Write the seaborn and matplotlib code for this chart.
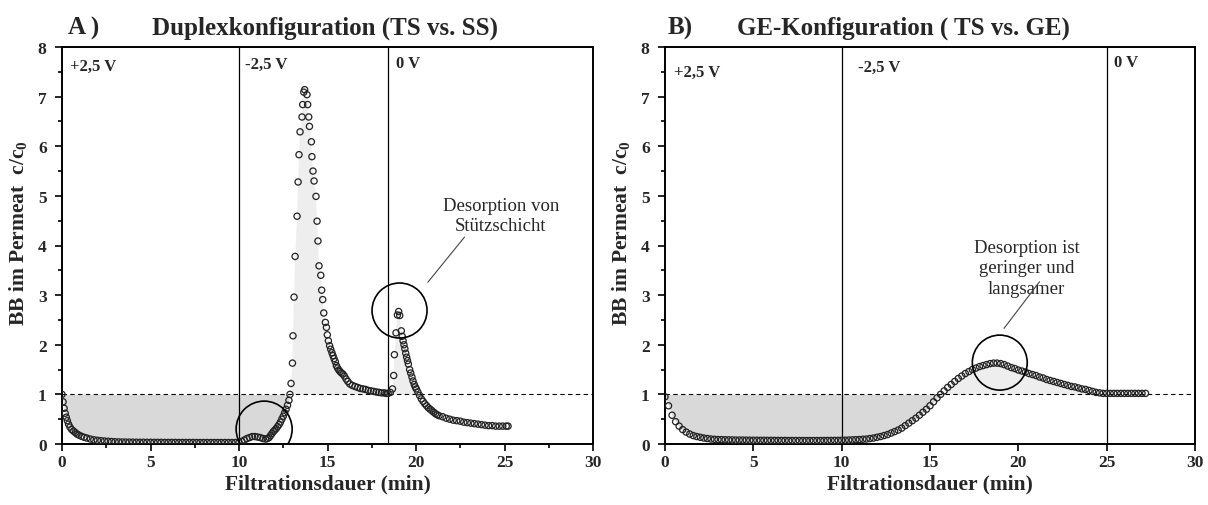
import matplotlib
matplotlib.use("Agg")
import numpy as np
import matplotlib.pyplot as plt
from matplotlib.patches import Ellipse
from matplotlib.ticker import MultipleLocator
import seaborn as sns

# ---------------- Panel A: Duplex configuration (TS vs. SS) ----------------
a_time = [
    0.0, 0.06, 0.12, 0.18, 0.24, 0.30, 0.37, 0.45, 0.55, 0.65, 0.75, 0.85, 0.95,
    1.10, 1.25, 1.40, 1.60, 1.80, 2.00, 2.20, 2.40, 2.60, 2.80, 3.00,
    3.2, 3.4, 3.6, 3.8, 4.0, 4.2, 4.4, 4.6, 4.8, 5.0, 5.2, 5.4, 5.6, 5.8,
    6.0, 6.2, 6.4, 6.6, 6.8, 7.0, 7.2, 7.4, 7.6, 7.8, 8.0, 8.2, 8.4, 8.6,
    8.8, 9.0, 9.2, 9.4, 9.6, 9.8, 10.0,
    10.15, 10.3, 10.45, 10.6, 10.75, 10.9, 11.05, 11.2, 11.35, 11.5, 11.6,
    11.7, 11.78, 11.86, 11.94, 12.02, 12.1, 12.18, 12.26, 12.34, 12.42, 12.5,
    12.58, 12.66, 12.74, 12.82, 12.88, 12.94,
    13.02, 13.05, 13.11, 13.17, 13.28, 13.34, 13.39, 13.45, 13.56, 13.60,
    13.66, 13.71, 13.84, 13.88, 13.94, 13.98, 14.09, 14.12, 14.18, 14.24,
    14.35, 14.41, 14.46, 14.52, 14.62, 14.67, 14.73, 14.79, 14.88, 14.94,
    14.99, 15.05, 15.12, 15.18, 15.25, 15.31, 15.37, 15.44, 15.50, 15.57,
    15.64, 15.71, 15.79, 15.87, 15.95,
    16.05, 16.15, 16.26, 16.4, 16.55, 16.7, 16.85, 17.0, 17.15, 17.3, 17.45,
    17.6, 17.75, 17.9, 18.05, 18.2, 18.32, 18.42,
    18.55, 18.67, 18.74, 18.78, 18.87, 18.95, 19.02, 19.08, 19.17, 19.22,
    19.27, 19.32, 19.37, 19.42, 19.47, 19.52, 19.57, 19.64, 19.7, 19.77,
    19.83, 19.9, 19.96, 20.02, 20.1, 20.2, 20.3, 20.4, 20.5, 20.6, 20.7,
    20.8, 20.9, 21.0, 21.1, 21.2, 21.3,
    21.5, 21.7, 21.9, 22.1, 22.3, 22.5, 22.7, 22.9, 23.1, 23.3, 23.5, 23.7,
    23.9, 24.1, 24.3, 24.5, 24.7, 24.9, 25.1, 25.2,
]
a_conc = [
    1.00, 0.85, 0.72, 0.62, 0.54, 0.47, 0.40, 0.34, 0.29, 0.26, 0.23, 0.20, 0.18,
    0.155, 0.135, 0.12, 0.10, 0.085, 0.075, 0.067, 0.06, 0.055, 0.05, 0.045,
    0.042, 0.040, 0.039, 0.038, 0.037, 0.036, 0.035, 0.035, 0.034, 0.034, 0.033,
    0.033, 0.033, 0.032, 0.032, 0.032, 0.032, 0.031, 0.031, 0.031, 0.031, 0.031,
    0.030, 0.030, 0.030, 0.030, 0.030, 0.030, 0.030, 0.030, 0.030, 0.030, 0.030,
    0.031, 0.033,
    0.05, 0.08, 0.11, 0.13, 0.15, 0.15, 0.14, 0.13, 0.11, 0.10, 0.11,
    0.13, 0.17, 0.21, 0.25, 0.28, 0.31, 0.35, 0.39, 0.44, 0.50, 0.56,
    0.63, 0.70, 0.78, 0.88, 1.00, 1.22,
    1.63, 2.18, 2.96, 3.78, 4.59, 5.28, 5.83, 6.29, 6.59, 6.84,
    7.09, 7.14, 7.04, 6.84, 6.59, 6.40, 6.09, 5.79, 5.50, 5.30,
    4.99, 4.49, 4.09, 3.59, 3.40, 3.10, 2.91, 2.64, 2.45, 2.35,
    2.20, 2.08, 1.98, 1.91, 1.84, 1.78, 1.72, 1.66, 1.58, 1.53,
    1.49, 1.46, 1.43, 1.41, 1.37,
    1.31, 1.26, 1.21, 1.18, 1.16, 1.14, 1.12, 1.11, 1.10, 1.08, 1.07,
    1.06, 1.05, 1.04, 1.03, 1.03, 1.02, 1.02,
    1.04, 1.11, 1.38, 1.80, 2.24, 2.60, 2.67, 2.59, 2.28, 2.17,
    2.08, 2.00, 1.92, 1.83, 1.75, 1.68, 1.61, 1.50, 1.43, 1.35,
    1.27, 1.20, 1.15, 1.11, 1.05, 0.98, 0.91, 0.86, 0.81, 0.77, 0.73,
    0.70, 0.67, 0.64, 0.61, 0.59, 0.57,
    0.55, 0.52, 0.50, 0.48, 0.47, 0.46, 0.44, 0.43, 0.42, 0.41, 0.40, 0.39,
    0.38, 0.37, 0.37, 0.36, 0.36, 0.36, 0.36, 0.36,
]

# ---------------- Panel B: GE configuration (TS vs. GE) ----------------
b_time = [
    0.0, 0.2, 0.4, 0.6, 0.8, 1.0, 1.2, 1.4, 1.6, 1.8,
    2.0, 2.2, 2.4, 2.6, 2.8, 3.0, 3.2, 3.4, 3.6, 3.8,
    4.0, 4.2, 4.4, 4.6, 4.8, 5.0, 5.2, 5.4, 5.6, 5.8,
    6.0, 6.2, 6.4, 6.6, 6.8, 7.0, 7.2, 7.4, 7.6, 7.8,
    8.0, 8.2, 8.4, 8.6, 8.8, 9.0, 9.2, 9.4, 9.6, 9.8,
    10.0, 10.2, 10.4, 10.6, 10.8, 11.0, 11.2, 11.4, 11.6, 11.8,
    12.0, 12.2, 12.4, 12.6, 12.8, 13.0, 13.2, 13.4, 13.6, 13.8,
    14.0, 14.2, 14.4, 14.6, 14.8, 15.0, 15.2, 15.4, 15.6, 15.8,
    16.0, 16.2, 16.4, 16.6, 16.8, 17.0, 17.2, 17.4, 17.6, 17.8,
    18.0, 18.2, 18.4, 18.6, 18.8, 19.0, 19.2, 19.4, 19.6, 19.8,
    20.0, 20.2, 20.4, 20.6, 20.8, 21.0, 21.2, 21.4, 21.6, 21.8,
    22.0, 22.2, 22.4, 22.6, 22.8, 23.0, 23.2, 23.4, 23.6, 23.8,
    24.0, 24.2, 24.4, 24.6, 24.8, 25.0, 25.2, 25.4, 25.6, 25.8,
    26.0, 26.2, 26.4, 26.6, 26.8, 27.0, 27.2,
]
b_conc = [
    0.95, 0.77, 0.58, 0.45, 0.36, 0.29, 0.24, 0.20, 0.17, 0.15,
    0.135, 0.12, 0.11, 0.10, 0.095, 0.09, 0.088, 0.086, 0.084, 0.082,
    0.080, 0.080, 0.079, 0.078, 0.077, 0.076, 0.076, 0.075, 0.075, 0.074,
    0.074, 0.073, 0.073, 0.072, 0.072, 0.071, 0.071, 0.070, 0.070, 0.070,
    0.070, 0.070, 0.070, 0.070, 0.071, 0.071, 0.072, 0.072, 0.073, 0.074,
    0.075, 0.077, 0.080, 0.083, 0.087, 0.090, 0.096, 0.10, 0.11, 0.12,
    0.135, 0.15, 0.17, 0.19, 0.22, 0.25, 0.28, 0.32, 0.37, 0.42,
    0.47, 0.52, 0.58, 0.64, 0.70, 0.77, 0.85, 0.93, 1.00, 1.07,
    1.14, 1.20, 1.26, 1.32, 1.37, 1.42, 1.46, 1.50, 1.53, 1.56,
    1.58, 1.60, 1.62, 1.63, 1.63, 1.62, 1.60, 1.57, 1.54, 1.52,
    1.49, 1.47, 1.45, 1.42, 1.40, 1.38, 1.35, 1.33, 1.30, 1.28,
    1.26, 1.24, 1.22, 1.20, 1.18, 1.16, 1.15, 1.13, 1.11, 1.10,
    1.08, 1.06, 1.04, 1.03, 1.02, 1.02, 1.02, 1.02, 1.02, 1.02,
    1.02, 1.02, 1.02, 1.02, 1.02, 1.02, 1.02,
]

# Switching times of the electrode potential and their labels
a_switch = [10.0, 18.42]
b_switch = [10.0, 25.0]
a_phase_labels = [("+2,5 V", 0.45, 7.62), ("-2,5 V", 10.35, 7.65), ("0 V", 18.85, 7.67)]
b_phase_labels = [("+2,5 V", 0.5, 7.5), ("-2,5 V", 10.9, 7.6), ("0 V", 25.4, 7.7)]

sns.set_theme(style="ticks")
plt.rcParams["font.family"] = ["Liberation Serif", "DejaVu Serif"]
plt.rcParams["mathtext.fontset"] = "custom"
plt.rcParams["mathtext.rm"] = "Liberation Serif"
plt.rcParams["mathtext.bf"] = "Liberation Serif:bold"
plt.rcParams["mathtext.it"] = "Liberation Serif:italic"

W, H = 1208, 506
fig = plt.figure(figsize=(W / 100, H / 100), dpi=100)
axA = fig.add_axes([62 / W, 61 / H, 531 / W, 397 / H])
axB = fig.add_axes([665 / W, 61 / H, 530 / W, 397 / H])


def draw_panel(ax, t, c, switches, phases, below_until, minor_x):
    t = np.asarray(t)
    c = np.asarray(c)
    # shaded areas between the curve and c/c0 = 1
    below = (c <= 1.0) & (t <= below_until)
    ax.fill_between(t, c, 1.0, where=below, interpolate=True,
                    color="#d9d9d9", lw=0, zorder=1)
    ax.fill_between(t, c, 1.0, where=c >= 1.0, interpolate=True,
                    color="#eeeeee", lw=0, zorder=1)
    ax.axhline(1.0, color="black", lw=0.8, ls=(0, (4, 3)), zorder=2)
    for s in switches:
        ax.axvline(s, color="black", lw=0.9, zorder=2)
    sns.scatterplot(x=t, y=c, ax=ax, marker="o", s=20, facecolor="none",
                    edgecolor="#222222", linewidth=0.9, zorder=3, legend=False)
    for txt, x, y in phases:
        ax.text(x, y, txt, fontsize=12, fontweight="bold", ha="left",
                va="center", zorder=4)

    ax.set_xlim(0, 30)
    ax.set_ylim(0, 8)
    ax.xaxis.set_major_locator(MultipleLocator(5))
    if minor_x:
        ax.xaxis.set_minor_locator(MultipleLocator(2.5))
    ax.yaxis.set_major_locator(MultipleLocator(1))
    ax.yaxis.set_minor_locator(MultipleLocator(0.5))
    ax.tick_params(which="both", direction="out", width=1.2, color="black")
    ax.tick_params(which="major", length=5, labelsize=12.5)
    ax.tick_params(axis="y", which="major", pad=6)
    ax.tick_params(axis="x", which="major", pad=2.5)
    ax.tick_params(which="minor", length=3)
    for lab in ax.get_xticklabels() + ax.get_yticklabels():
        lab.set_fontweight("bold")
    for sp in ax.spines.values():
        sp.set_visible(True)
        sp.set_linewidth(1.4)
        sp.set_color("black")
    ax.set_xlabel("Filtrationsdauer (min)", fontsize=15.5, fontweight="bold")
    ax.set_ylabel(r"BB im Permeat  c/c$_{\mathbf{0}}$", fontsize=15.5,
                  fontweight="bold")
    ax.xaxis.set_label_coords(0.5, -0.074)
    ax.yaxis.set_label_coords(-0.062, 0.535)


draw_panel(axA, a_time, a_conc, a_switch, a_phase_labels, 13.0, True)
draw_panel(axB, b_time, b_conc, b_switch, b_phase_labels, 16.0, False)


def ring(ax, x, y, r_px):
    # circle with a fixed pixel radius placed at data coordinates
    sx = 531 / 30.0
    sy = 397 / 8.0
    ax.add_patch(Ellipse((x, y), 2 * r_px / sx, 2 * r_px / sy, fill=False,
                         ec="black", lw=1.2, zorder=5))


ring(axA, 11.42, 0.30, 28)
ring(axA, 19.07, 2.69, 27.5)
axA.plot([20.67, 22.74], [3.26, 4.17], color="#444444", lw=0.8, zorder=5)
axA.text(24.8, 4.6, "Desorption von\nStützschicht", fontsize=13.5,
         ha="center", va="center", linespacing=1.25, zorder=5)

ring(axB, 18.95, 1.64, 27.5)
axB.plot([19.19, 21.2], [2.33, 3.27], color="#444444", lw=0.8, zorder=5)
axB.text(20.46, 3.55, "Desorption ist\ngeringer und\nlangsamer", fontsize=13.5,
         ha="center", va="center", linespacing=1.25, zorder=4)

# panel titles
fig.text(68 / W, 1 - 28 / H, "A )", fontsize=18, fontweight="bold",
         ha="left", va="center")
fig.text(325 / W, 1 - 28 / H, "Duplexkonfiguration (TS vs. SS)", fontsize=18,
         fontweight="bold", ha="center", va="center")
fig.text(668 / W, 1 - 28 / H, "B)", fontsize=18, fontweight="bold",
         ha="left", va="center")
fig.text(903 / W, 1 - 28 / H, "GE-Konfiguration ( TS vs. GE)", fontsize=18,
         fontweight="bold", ha="center", va="center")

fig.savefig("out.png", dpi=100)
